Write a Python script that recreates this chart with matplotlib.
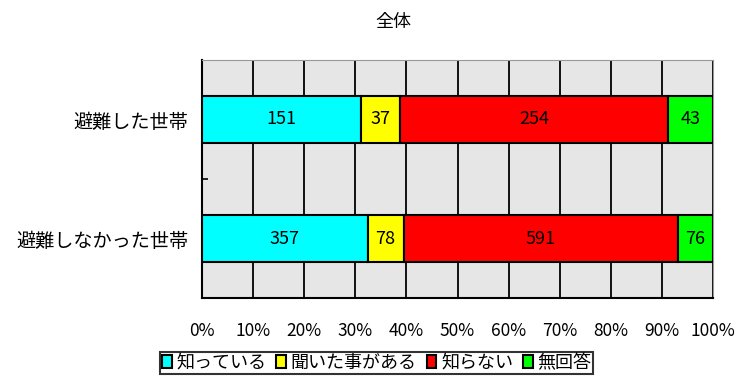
import matplotlib
matplotlib.use('Agg')
import matplotlib.pyplot as plt
from matplotlib.patches import Patch
import numpy as np

plt.rcParams['font.family'] = ['Noto Sans CJK JP', 'DejaVu Sans']

categories = ['避難した世帯', '避難しなかった世帯']
series_names = ['知っている', '聞いた事がある', '知らない', '無回答']
colors = ['#00ffff', '#ffff00', '#ff0000', '#00ff00']
counts = [
    [151, 357],   # 知っている
    [37, 78],     # 聞いた事がある
    [254, 591],   # 知らない
    [43, 76],     # 無回答
]
xtick_labels = ['0%', '10%', '20%', '30%', '40%', '50%', '60%', '70%', '80%', '90%', '100%']

counts = np.array(counts, dtype=float)
shares = counts / counts.sum(axis=0)

fig = plt.figure(figsize=(7.37, 3.79), dpi=100)
ax = fig.add_axes([202 / 737, 1 - 298 / 379, 511 / 737, 238 / 379])
ax.set_facecolor('#e6e6e6')

y = np.arange(len(categories))
left = np.zeros(len(categories))
for i, name in enumerate(series_names):
    ax.barh(y, shares[i], left=left, height=0.39, color=colors[i],
            edgecolor='black', linewidth=1.5, zorder=3)
    for j in range(len(categories)):
        ax.text(left[j] + shares[i][j] / 2, y[j], f'{int(counts[i][j])}',
                ha='center', va='center', fontsize=13, zorder=4)
    left += shares[i]

ax.set_xlim(0, 1)
ax.set_ylim(1.5, -0.5)
ax.set_xticks(np.linspace(0, 1, 11))
ax.set_xticklabels(xtick_labels, fontsize=12.5)
ax.tick_params(axis='x', length=0, pad=17)
ax.set_yticks(y)
ax.set_yticklabels(categories, fontsize=13.8)
ax.tick_params(axis='y', length=0, pad=10)
ax.set_yticks([0.5], minor=True)
ax.tick_params(axis='y', which='minor', length=4, width=1.2, direction='in')
ax.grid(axis='x', color='black', linewidth=1.3, zorder=1)
for side in ['top', 'right']:
    ax.spines[side].set_color('#999999')
for side in ['left', 'bottom']:
    ax.spines[side].set_color('black')
    ax.spines[side].set_linewidth(1.5)

fig.text(393 / 737, 1 - 22 / 379, '全体', ha='center', va='center', fontsize=13)

handles = [Patch(facecolor=c, edgecolor='black', linewidth=1.5) for c in colors]
leg = fig.legend(handles, series_names, loc='upper left',
                 bbox_to_anchor=(160 / 737, 1 - 352 / 379), ncol=4, fontsize=13,
                 handlelength=0.55, handleheight=0.75, handletextpad=0.25,
                 columnspacing=0.55, borderpad=0.1, borderaxespad=0,
                 fancybox=False)
leg.get_frame().set_edgecolor('black')
leg.get_frame().set_linewidth(1.5)

fig.savefig('out.png', dpi=100)
